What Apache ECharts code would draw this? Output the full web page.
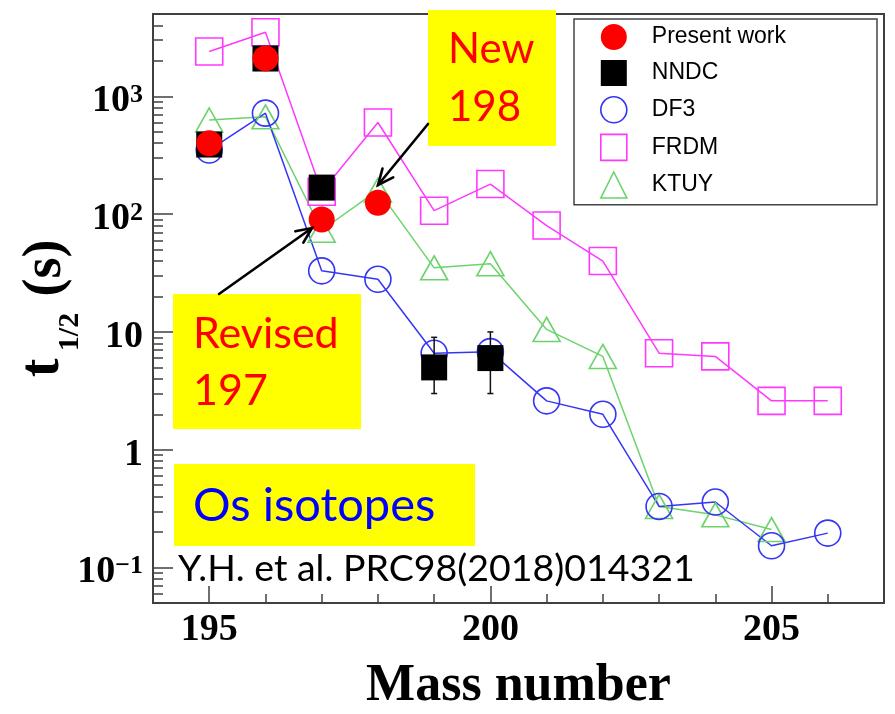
<!DOCTYPE html>
<html>
<head>
<meta charset="utf-8">
<script src="https://cdn.jsdelivr.net/npm/echarts@6/dist/echarts.min.js"></script>
<style>
  html, body { margin: 0; padding: 0; background: #fff; }
  #chart { width: 895px; height: 714px; }
</style>
</head>
<body>
<div id="chart"></div>
<script>
// Half-lives t1/2 (s) of neutron-rich Os isotopes versus mass number
const massAll = [195, 196, 197, 198, 199, 200, 201, 202, 203, 204, 205, 206];

const presentMass = [195, 196, 197, 198];
const presentT    = [400, 2100, 90, 125];

const nndcMass    = [195, 196, 197, 199, 200];
const nndcT       = [390, 2094, 168, 5, 6];
const nndcErrLow  = [null, null, null, 3, 3];
const nndcErrHigh = [null, null, null, 9, 10];

const df3Mass  = massAll;
const df3T     = [350, 720, 33, 28, 6.6, 6.8, 2.6, 2.0, 0.33, 0.36, 0.153, 0.196];

const frdmMass = massAll;
const frdmT    = [2400, 3500, 155, 600, 107, 180, 80, 40, 6.6, 6.2, 2.6, 2.6];

const ktuyMass = [195, 196, 197, 198, 199, 200, 201, 202, 203, 204, 205];
const ktuyT    = [630, 670, 73, 160, 35, 38, 10.5, 6.2, 0.33, 0.28, 0.21];

// Axis ticks and labels
const xMajorTicks = [195, 200, 205];
const xMinorTicks = [196, 197, 198, 199, 201, 202, 203, 204, 206];
const yMajorTicks = [0.1, 1, 10, 100, 1000];
const yMajorBase  = ['10', '1', '10', '10', '10'];
const yMajorExp   = ['\u22121', '', '', '2', '3'];
const yMinorTicks = [0.06, 0.07, 0.08, 0.09,
  0.2, 0.3, 0.4, 0.5, 0.6, 0.7, 0.8, 0.9,
  2, 3, 4, 5, 6, 7, 8, 9,
  20, 30, 40, 50, 60, 70, 80, 90,
  200, 300, 400, 500, 600, 700, 800, 900,
  2000, 3000, 4000];

const C = {
  present: '#ff0000',
  nndc: '#000000',
  df3: '#3535f5',
  frdm: '#ff38ff',
  ktuy: '#6cd36c',
  frame: '#404040'
};
const SERIF = '"Liberation Serif", "Times New Roman", serif';
const SANS = '"Liberation Sans", Arial, sans-serif';
const NOTE = 'Lato, "Open Sans", sans-serif';

const pairs = (xs, ys) => xs.map((x, i) => [x, ys[i]]);

const errData = [];
nndcMass.forEach((m, i) => {
  if (nndcErrLow[i] != null) errData.push([m, nndcErrLow[i], nndcErrHigh[i]]);
});

function yLabel(value) {
  for (let i = 0; i < yMajorTicks.length; i++) {
    if (Math.abs(Math.log10(value) - Math.log10(yMajorTicks[i])) < 1e-6) {
      return '{m|' + yMajorBase[i] + '}' + (yMajorExp[i] ? '{s|' + yMajorExp[i] + '}' : '');
    }
  }
  return '';
}

function arrow(x1, y1, x2, y2) {
  const a = Math.atan2(y2 - y1, x2 - x1);
  const L = 17, h = 0.42;
  const st = { stroke: '#000', lineWidth: 2.6, fill: null, lineCap: 'round' };
  return [
    { type: 'line', z: 200, shape: { x1, y1, x2, y2 }, style: st },
    { type: 'polyline', z: 200, shape: { points: [
      [x2 - L * Math.cos(a - h), y2 - L * Math.sin(a - h)],
      [x2, y2],
      [x2 - L * Math.cos(a + h), y2 - L * Math.sin(a + h)]
    ] }, style: st }
  ];
}

function note(x, y, text, size, color) {
  return { type: 'text', z: 210, x, y,
    style: { text, fill: color, font: size + 'px ' + NOTE, align: 'left', verticalAlign: 'middle' } };
}

const graphics = [
  // "New 198" box
  { type: 'rect', z: 190, shape: { x: 428, y: 10, width: 128, height: 136 }, style: { fill: '#ffff00' } },
  note(448, 49, 'New', 42, '#ff0000'),
  note(448, 107, '198', 42, '#ff0000'),
  // "Revised 197" box
  { type: 'rect', z: 190, shape: { x: 173, y: 294, width: 188, height: 135 }, style: { fill: '#ffff00' } },
  note(193, 334, 'Revised', 43, '#ff0000'),
  note(193, 391, '197', 43, '#ff0000'),
  // "Os isotopes" box
  { type: 'rect', z: 190, shape: { x: 174, y: 464, width: 301, height: 82 }, style: { fill: '#ffff00' } },
  note(193, 506, 'Os isotopes', 47, '#0000ff'),
  // reference
  note(178, 569, 'Y.H. et al. PRC98(2018)014321', 37.5, '#000000'),
  // y-axis title, rotated
  { type: 'text', z: 210, x: 44, y: 368, rotation: Math.PI / 2,
    style: { text: 't', fill: '#000', font: 'bold 56px ' + SERIF, align: 'center', verticalAlign: 'middle' } },
  { type: 'text', z: 210, x: 70, y: 332, rotation: Math.PI / 2,
    style: { text: '1/2', fill: '#000', font: 'bold 30px ' + SERIF, align: 'center', verticalAlign: 'middle' } },
  { type: 'text', z: 210, x: 46, y: 268, rotation: Math.PI / 2,
    style: { text: '(s)', fill: '#000', font: 'bold 54px ' + SERIF, align: 'center', verticalAlign: 'middle' } }
].concat(arrow(428, 124, 378, 185), arrow(219, 294, 312, 228));

const chart = echarts.init(document.getElementById('chart'), null, { renderer: 'canvas' });

chart.setOption({
  animation: false,
  backgroundColor: '#fff',
  grid: { left: 153, right: 11, top: 14, bottom: 111, show: true,
    containLabel: false, outerBoundsMode: 'none',
    borderColor: C.frame, borderWidth: 2, backgroundColor: 'transparent' },
  legend: {
    orient: 'vertical', left: 574, top: 19,
    padding: [5, 91, 6, 26],
    itemWidth: 26, itemHeight: 26, itemGap: 10,
    borderColor: '#444', borderWidth: 1.5, backgroundColor: '#fff',
    selectedMode: false,
    textStyle: { fontFamily: SANS, fontSize: 23, color: '#000', padding: [0, 0, 0, 20] },
    data: [
      { name: 'Present work', icon: 'circle', itemStyle: { color: C.present } },
      { name: 'NNDC', icon: 'rect', itemStyle: { color: C.nndc } },
      { name: 'DF3', icon: 'circle', itemStyle: { color: '#fff', borderColor: C.df3, borderWidth: 1.6 } },
      { name: 'FRDM', icon: 'rect', itemStyle: { color: '#fff', borderColor: C.frdm, borderWidth: 1.6 } },
      { name: 'KTUY', icon: 'triangle', itemStyle: { color: '#fff', borderColor: C.ktuy, borderWidth: 1.6 } }
    ],
    z: 50
  },
  xAxis: [
    {
      type: 'value', min: 194, max: 207, position: 'bottom',
      axisLine: { show: true, onZero: false, lineStyle: { color: C.frame, width: 2 } },
      axisTick: { show: true, inside: true, length: 17, customValues: xMajorTicks,
        lineStyle: { color: C.frame, width: 1.5 } },
      axisLabel: { show: true, customValues: xMajorTicks, margin: 8,
        fontFamily: SERIF, fontWeight: 'bold', fontSize: 38, color: '#000' },
      splitLine: { show: false },
      name: 'Mass number', nameLocation: 'middle', nameGap: 58,
      nameTextStyle: { fontFamily: SERIF, fontWeight: 'bold', fontSize: 52, color: '#000' }
    },
    {
      type: 'value', min: 194, max: 207, position: 'bottom',
      axisLine: { show: false, onZero: false },
      axisTick: { show: true, inside: true, length: 9, customValues: xMinorTicks,
        lineStyle: { color: C.frame, width: 1.5 } },
      axisLabel: { show: false },
      splitLine: { show: false }
    }
  ],
  yAxis: [
    {
      type: 'log', logBase: 10, min: 0.05, max: 5000, position: 'left',
      axisLine: { show: true, onZero: false, lineStyle: { color: C.frame, width: 2 } },
      axisTick: { show: true, inside: true, length: 20, lineStyle: { color: C.frame, width: 1.5 } },
      axisLabel: {
        show: true, margin: 10, padding: [10, 0, 0, 0],
        formatter: yLabel,
        rich: {
          m: { fontFamily: SERIF, fontWeight: 'bold', fontSize: 38, color: '#000', lineHeight: 38 },
          s: { fontFamily: SERIF, fontWeight: 'bold', fontSize: 26, color: '#000', verticalAlign: 'top', lineHeight: 26 }
        }
      },
      splitLine: { show: false },
      minorTick: { show: false }
    },
    {
      type: 'log', logBase: 10, min: 0.05, max: 5000, position: 'left',
      axisLine: { show: false, onZero: false },
      axisTick: { show: true, inside: true, length: 10, customValues: yMinorTicks,
        lineStyle: { color: C.frame, width: 1.5 } },
      axisLabel: { show: false },
      splitLine: { show: false }
    }
  ],
  graphic: graphics,
  series: [
    {
      name: 'FRDM', type: 'line', xAxisIndex: 0, yAxisIndex: 0, z: 2, silent: true,
      data: pairs(frdmMass, frdmT),
      symbol: 'rect', symbolSize: 27, showSymbol: true,
      itemStyle: { color: 'rgba(0,0,0,0)', borderColor: C.frdm, borderWidth: 1.6 },
      lineStyle: { color: C.frdm, width: 1.5 }
    },
    {
      name: 'KTUY', type: 'line', xAxisIndex: 0, yAxisIndex: 0, z: 2, silent: true,
      data: pairs(ktuyMass, ktuyT),
      symbol: 'triangle', symbolSize: [27, 24], showSymbol: true,
      itemStyle: { color: 'rgba(0,0,0,0)', borderColor: C.ktuy, borderWidth: 1.6 },
      lineStyle: { color: C.ktuy, width: 1.5 }
    },
    {
      name: 'DF3', type: 'line', xAxisIndex: 0, yAxisIndex: 0, z: 2, silent: true,
      data: pairs(df3Mass, df3T),
      symbol: 'circle', symbolSize: 26, showSymbol: true,
      itemStyle: { color: 'rgba(0,0,0,0)', borderColor: C.df3, borderWidth: 1.6 },
      lineStyle: { color: C.df3, width: 1.5 }
    },
    {
      name: 'NNDC error', type: 'custom', xAxisIndex: 0, yAxisIndex: 0, z: 4, silent: true,
      data: errData,
      encode: { x: 0, y: [1, 2] },
      renderItem: function (params, api) {
        const x = api.value(0);
        const lo = api.coord([x, api.value(1)]);
        const hi = api.coord([x, api.value(2)]);
        const w = 3;
        const st = { stroke: '#111', lineWidth: 1.5 };
        return { type: 'group', children: [
          { type: 'line', shape: { x1: lo[0], y1: lo[1], x2: hi[0], y2: hi[1] }, style: st },
          { type: 'line', shape: { x1: lo[0] - w, y1: lo[1], x2: lo[0] + w, y2: lo[1] }, style: st },
          { type: 'line', shape: { x1: hi[0] - w, y1: hi[1], x2: hi[0] + w, y2: hi[1] }, style: st }
        ] };
      }
    },
    {
      name: 'NNDC', type: 'scatter', xAxisIndex: 0, yAxisIndex: 0, z: 5, silent: true,
      data: pairs(nndcMass, nndcT),
      symbol: 'rect', symbolSize: 26,
      itemStyle: { color: C.nndc, opacity: 1 }
    },
    {
      name: 'Present work', type: 'scatter', xAxisIndex: 0, yAxisIndex: 0, z: 6, silent: true,
      data: pairs(presentMass, presentT),
      symbol: 'circle', symbolSize: 26,
      itemStyle: { color: C.present, opacity: 1 }
    }
  ]
});
</script>
</body>
</html>
